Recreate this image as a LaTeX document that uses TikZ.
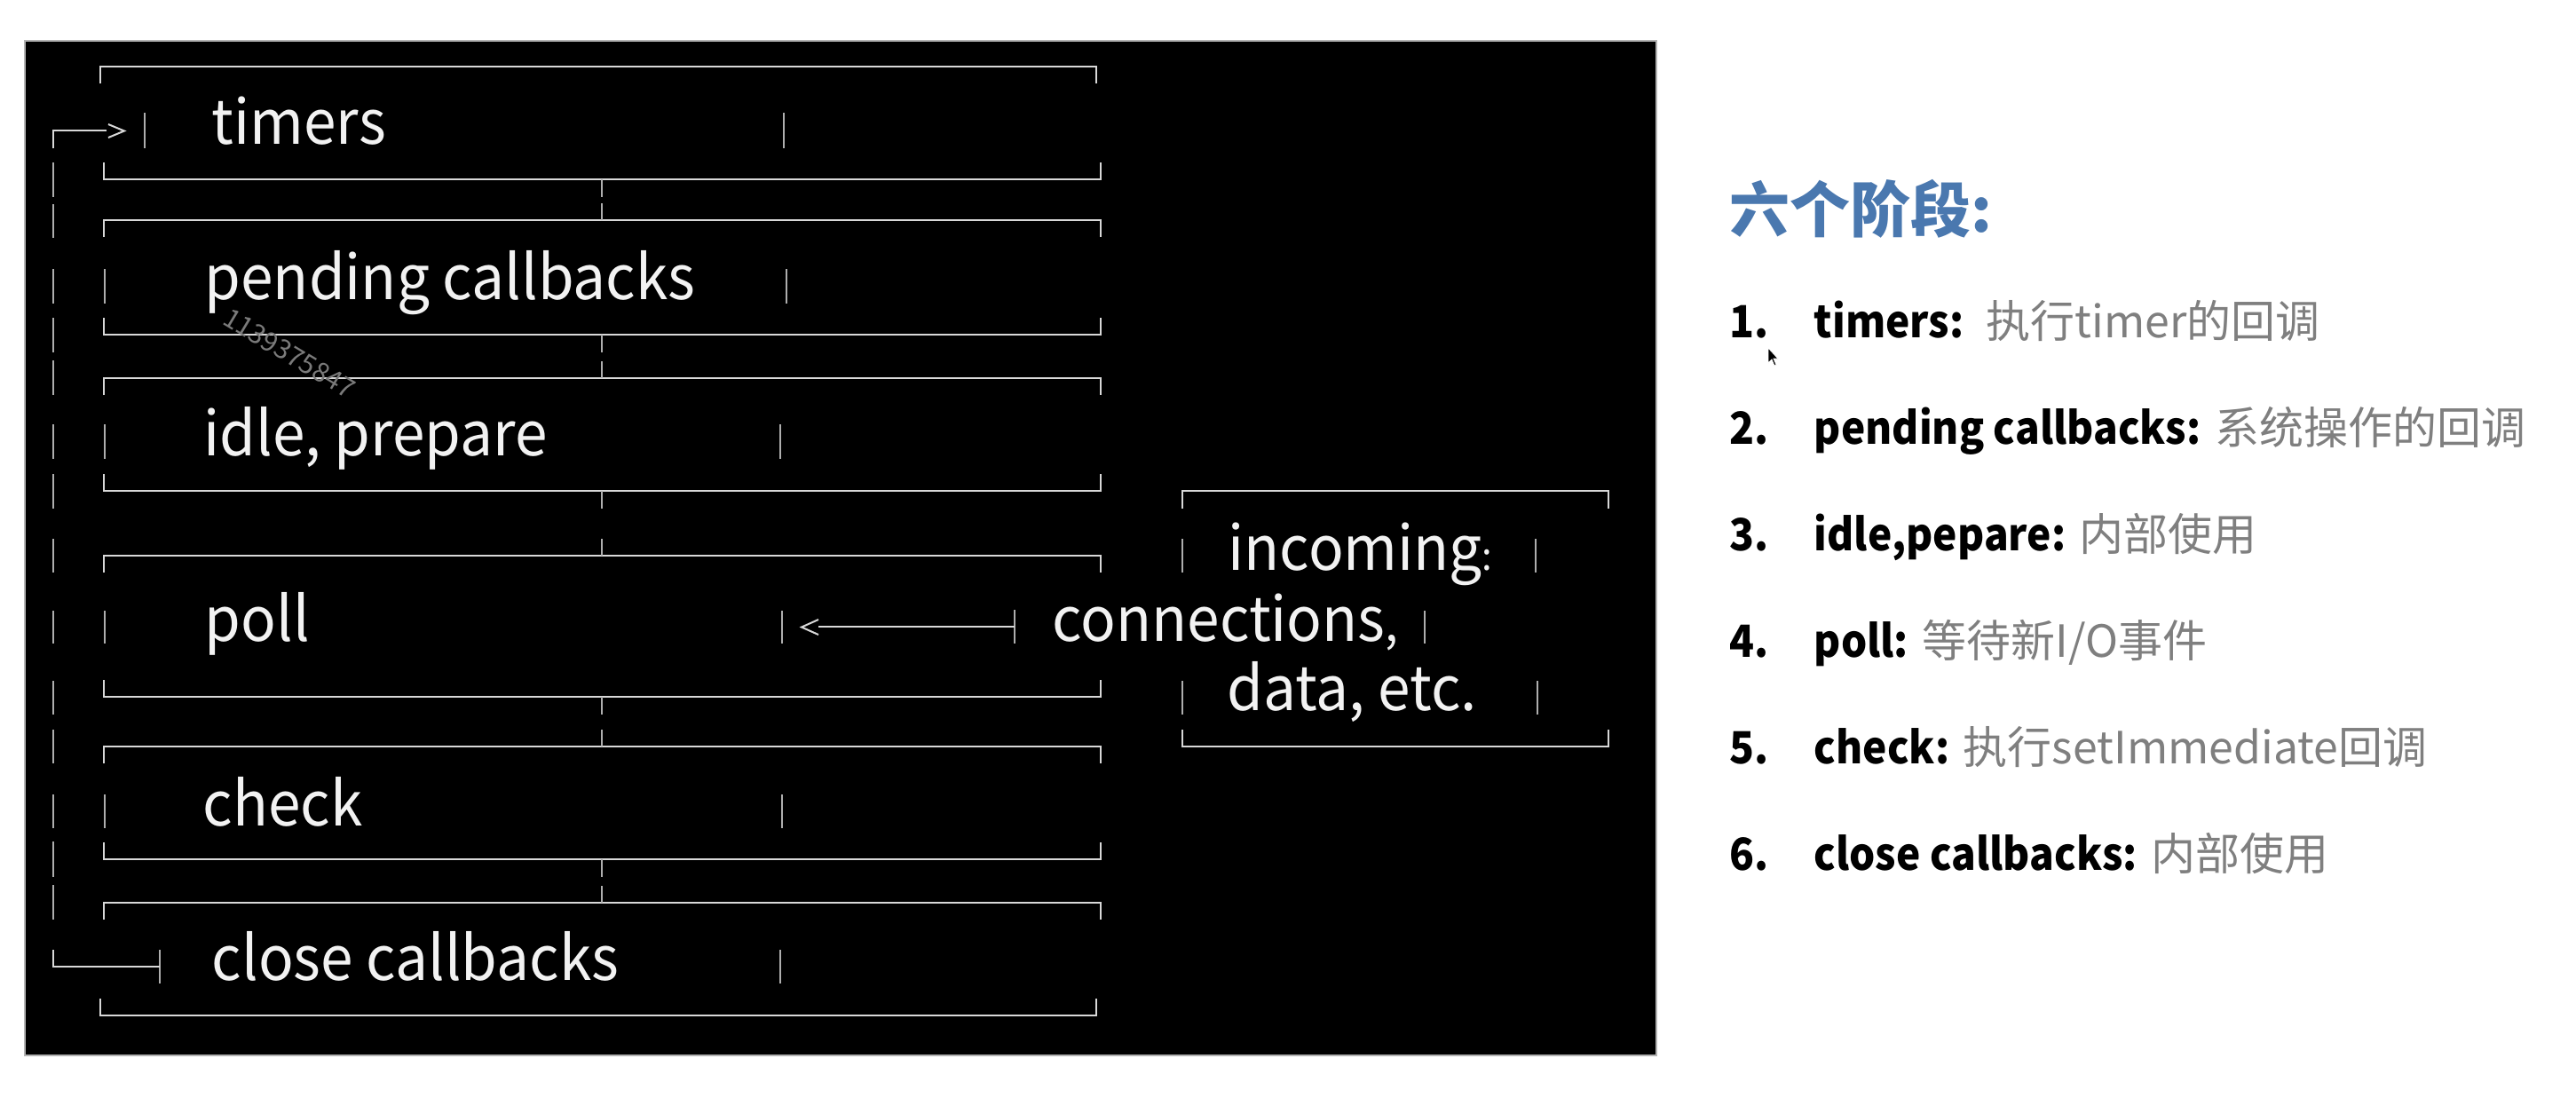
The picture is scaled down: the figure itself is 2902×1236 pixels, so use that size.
\documentclass[tikz,border=0pt]{standalone}
\usepackage{fontspec}
\newfontfamily\cjk{Noto Sans CJK SC}
\newfontfamily\cjkn[FakeStretch=0.95]{Noto Sans CJK SC}
\newfontfamily\cjkb[FakeStretch=0.92]{Noto Sans CJK SC}
\definecolor{hl}{HTML}{D8D8D8}
\definecolor{vb}{HTML}{AEAEAE}
\definecolor{txtw}{HTML}{F2F2F2}
\definecolor{ttlblue}{HTML}{4A78AF}
\definecolor{descgray}{HTML}{7F7F7F}
\definecolor{wmgray}{HTML}{7A7A7A}
\begin{document}
\begin{tikzpicture}[x=0.25pt,y=-0.25pt,
  hline/.style={draw=hl,line width=0.7pt},
  vbar/.style={draw=vb,line width=0.55pt},
  chev/.style={draw=hl,line width=0.5pt},
  dtext/.style={anchor=base west,inner sep=0pt,text=txtw,font=\cjkn\fontsize{17.3}{20}\selectfont},
  ttltext/.style={anchor=base west,inner sep=0pt,text=ttlblue,font=\cjk\bfseries\fontsize{17}{20}\selectfont},
  numtext/.style={anchor=base west,inner sep=0pt,text=black,font=\cjkb\bfseries\fontsize{12.5}{15}\selectfont},
  labtext/.style={anchor=base west,inner sep=0pt,text=black,font=\cjkb\bfseries\fontsize{12.5}{15}\selectfont},
  desctext/.style={anchor=base west,inner sep=0pt,text=descgray,font=\cjk\fontsize{12.5}{15}\selectfont},
]
\useasboundingbox (0,0) rectangle (2902,1236);
\fill[white] (0,0) rectangle (2902,1236);
\filldraw[fill=black,draw=gray!60,line width=0.3pt] (28,46) rectangle (1866,1189);

% phase boxes: top y / bottom y / top-left x / top-right x / bottom-left x / bottom-right x
\foreach \yt/\yb/\la/\ra/\lb/\rb in {75/202/113/1235/117/1240, 248/377/117/1240/117/1240,
    426/553/117/1240/117/1240, 626/785/117/1240/117/1240, 841/968/117/1240/117/1240,
    1017/1144/117/1240/113/1235}{
  \draw[hline] (\la,\yt+19) -- (\la,\yt) -- (\ra,\yt) -- (\ra,\yt+19);
  \draw[hline] (\lb,\yb-19) -- (\lb,\yb) -- (\rb,\yb) -- (\rb,\yb-19);
}
% connectors between consecutive boxes
\foreach \yb/\yt in {202/248, 377/426, 553/626, 785/841, 968/1017}{
  \coordinate (cb\yb) at (678,\yb);
  \coordinate (ct\yt) at (678,\yt);
  \draw[vbar] (cb\yb) -- ++(0,20);
  \draw[vbar] (ct\yt) -- ++(0,-19);
}
% side bars of text rows
\foreach \ya/\yz/\xl/\xr in {127/167/163/883, 303/342/118/886, 478/517/118/879,
    688/725/118/881, 895/933/118/881, 1070/1108/180/879}{
  \draw[vbar] (\xl,\ya) -- (\xl,\yz);
  \draw[vbar] (\xr,\ya) -- (\xr,\yz);
}
% loop line on the left
\foreach \ya/\yz in {183/222, 230/268, 303/342, 358/397, 406/445, 478/517, 534/573,
    607/645, 688/725, 767/805, 822/860, 895/933, 948/988, 997/1036}{
  \draw[vbar] (60,\ya) -- (60,\yz);
}
\coordinate (loopTop) at (60,147);
\coordinate (loopBot) at (60,1089);
\draw[hline] (60,167) -- (loopTop) -- (120,147);
\draw[chev] (122,140) -- (140,147.5) -- (122,155);
\draw[hline] (60,1070) -- (loopBot) -- (180,1089);

% incoming box
\draw[hline] (1332,573) -- (1332,553) -- (1812,553) -- (1812,573);
\draw[hline] (1332,822) -- (1332,841) -- (1812,841) -- (1812,822);
\draw[vbar] (1332,607) -- (1332,645);
\draw[vbar] (1332,767) -- (1332,805);
\draw[vbar] (1730,607) -- (1730,645);
\draw[vbar] (1605,688) -- (1605,725);
\draw[vbar] (1732,767) -- (1732,805);
% arrow into poll
\coordinate (inTail) at (1143,706);
\coordinate (inHead) at (922,706);
\draw[vbar] (1143,687) -- (1143,725);
\draw[hline] (inTail) -- (inHead);
\draw[chev] (922,698) -- (903,706.5) -- (922,715);

% phase labels
\node[dtext] (timers) at (238,162) {timers};
\node[dtext] (pending) at (230,337) {pending callbacks};
\node[dtext] (idle) at (229,513) {idle, prepare};
\node[dtext] (poll) at (230,722) {poll};
\node[dtext] (check) at (228,930) {check};
\node[dtext] (close) at (238,1104) {close callbacks};
\node[dtext] (incoming) at (1383,642) {incoming{\fontsize{11}{12}\selectfont:}};
\node[dtext] (conn) at (1185,722) {connections{\fontsize{14}{12}\selectfont,}};
\node[dtext] (data) at (1382,800) {data, etc.};

% watermark
\node[text=wmgray,font=\cjk\fontsize{7.5}{9}\selectfont,rotate=-31,inner sep=0pt] (wm) at (326,398) {1139375847};

% right panel
\node[ttltext] (title) at (1948,261) {六个阶段:};
\node[numtext] (n1) at (1948,380) {1.};
\node[labtext] (l1) at (2043,380) {timers:};
\node[desctext] (d1) at ([xshift=6pt]l1.base east) {执行timer的回调};
\node[numtext] (n2) at (1948,500) {2.};
\node[labtext] (l2) at (2043,500) {pending callbacks:};
\node[desctext] (d2) at ([xshift=3.5pt]l2.base east) {系统操作的回调};
\node[numtext] (n3) at (1948,620) {3.};
\node[labtext] (l3) at (2043,620) {idle,pepare:};
\node[desctext] (d3) at ([xshift=3.5pt]l3.base east) {内部使用};
\node[numtext] (n4) at (1948,740) {4.};
\node[labtext] (l4) at (2043,740) {poll:};
\node[desctext] (d4) at ([xshift=3.5pt]l4.base east) {等待新I/O事件};
\node[numtext] (n5) at (1948,860) {5.};
\node[labtext] (l5) at (2043,860) {check:};
\node[desctext] (d5) at ([xshift=3.5pt]l5.base east) {执行setImmediate回调};
\node[numtext] (n6) at (1948,980) {6.};
\node[labtext] (l6) at (2043,980) {close callbacks:};
\node[desctext] (d6) at ([xshift=3.5pt]l6.base east) {内部使用};

% mouse pointer
\filldraw[fill=black,draw=white,line width=0.2pt] (1992,392) -- (1992,409) -- (1996,405) -- (1999,412) -- (2001,411) -- (1998,404) -- (2003,404) -- cycle;
\end{tikzpicture}
\end{document}
